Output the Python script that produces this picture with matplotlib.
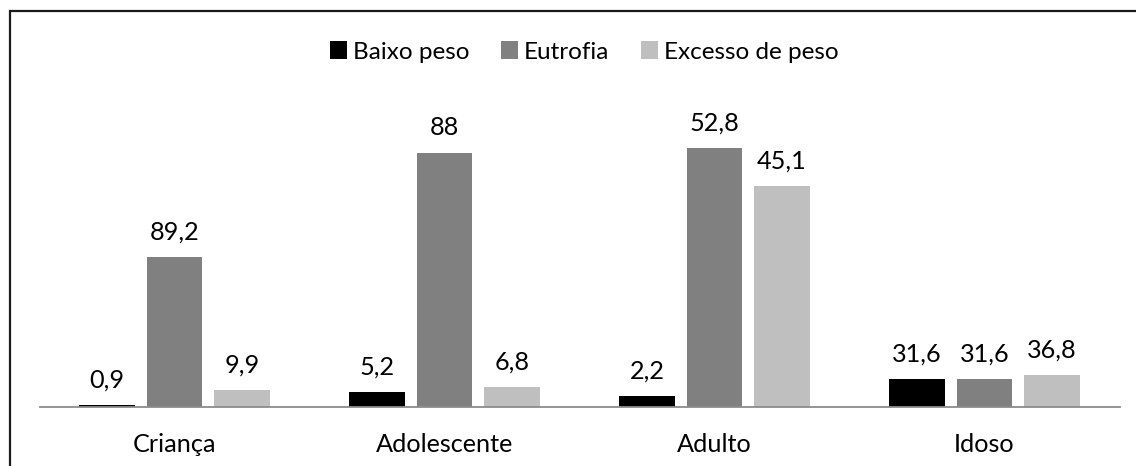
import matplotlib

matplotlib.use("Agg")
import matplotlib.pyplot as plt  # noqa: E402
import numpy as np  # noqa: E402
from matplotlib.patches import Patch, Rectangle  # noqa: E402

# categorias e series (valores impressos nos rotulos)
categorias = ["Criança", "Adolescente", "Adulto", "Idoso"]
series = ["Baixo peso", "Eutrofia", "Excesso de peso"]
rotulos_baixo = ["0,9", "5,2", "2,2", "31,6"]
rotulos_eutrofia = ["89,2", "88", "52,8", "31,6"]
rotulos_excesso = ["9,9", "6,8", "45,1", "36,8"]

# alturas das barras tal como desenhadas na figura original
# (nao sao proporcionais aos rotulos)
altura_baixo = [2.0, 15.5, 11.3, 28.0]
altura_eutrofia = [150.6, 254.6, 259.6, 28.0]
altura_excesso = [17.3, 20.6, 221.3, 32.6]

cores = ["#000000", "#808080", "#BFBFBF"]

plt.rcParams["font.family"] = ["Lato", "DejaVu Sans"]
FS = 18.2      # rotulos e categorias
FS_LEG = 17.5  # legenda

W, H = 1136, 466
fig = plt.figure(figsize=(W / 100, H / 100), dpi=100)
ax = fig.add_axes([39.5 / W, (H - 407.3) / H, 1080 / W, 387.3 / H])

x = np.arange(len(categorias))
largura = 0.207
passo = 0.25
alturas = [altura_baixo, altura_eutrofia, altura_excesso]
rotulos = [rotulos_baixo, rotulos_eutrofia, rotulos_excesso]

for k in range(3):
    pos = x + (k - 1) * passo
    ax.bar(pos, alturas[k], width=largura, color=cores[k], zorder=2)
    for xi, h, lab in zip(pos, alturas[k], rotulos[k]):
        ax.annotate(lab, xy=(xi, h), xytext=(0, 12.6), textcoords="offset points",
                    ha="center", va="baseline", fontsize=FS, color="#000000")

ax.set_xlim(-0.5, len(categorias) - 0.5)
ax.set_ylim(0, 387.3)
ax.set_xticks(x)
ax.set_xticklabels(categorias, fontsize=FS)
ax.tick_params(axis="x", length=0, pad=18.5)
ax.set_yticks([])
for s in ("top", "right", "left"):
    ax.spines[s].set_visible(False)
ax.spines["bottom"].set_color("#8C8C8C")
ax.spines["bottom"].set_linewidth(1.3)
ax.spines["bottom"].set_zorder(3)

handles = [Patch(facecolor=c, edgecolor="none") for c in cores]
fig.legend(handles, series, loc="center", ncol=3, frameon=False,
           bbox_to_anchor=(584 / W, 1 - 52 / H), fontsize=FS_LEG,
           handlelength=0.7, handleheight=0.7, handletextpad=0.25,
           columnspacing=1.3)

# moldura do grafico (cortada a direita e em baixo)
fig.patches.append(Rectangle((10 / W, -0.1), 1.2, 1.1 - 11 / H,
                             transform=fig.transFigure, fill=False,
                             edgecolor="#1a1a1a", linewidth=1.6))

fig.savefig("out.png", dpi=100)
